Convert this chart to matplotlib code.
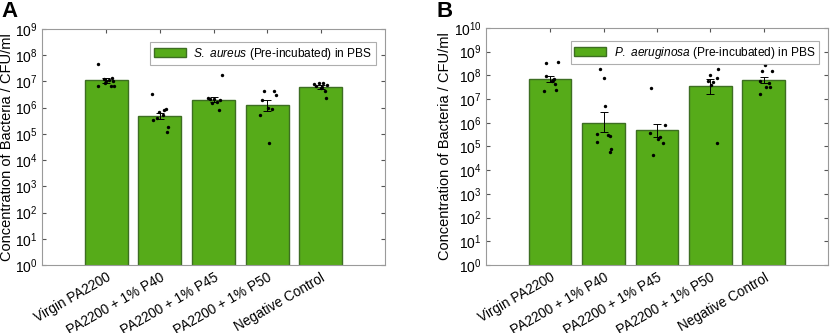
import numpy as np
import matplotlib
matplotlib.use("Agg")
import matplotlib.pyplot as plt
from matplotlib.ticker import LogLocator, LogFormatterSciNotation, NullLocator

plt.rcParams['font.family'] = ['Liberation Sans', 'DejaVu Sans']
plt.rcParams['mathtext.fontset'] = 'custom'
plt.rcParams['mathtext.rm'] = 'Liberation Sans'
plt.rcParams['mathtext.it'] = 'Liberation Sans:italic'

groups = ["Virgin PA2200", "PA2200 + 1% P40", "PA2200 + 1% P45",
          "PA2200 + 1% P50", "Negative Control"]

# panel A: S. aureus
a_mean = [1.1e7, 4.8e5, 2.0e6, 1.22e6, 6.1e6]
a_lo = [9.0e6, 3.8e5, 1.7e6, 7.5e5, 5.2e6]
a_hi = [1.3e7, 6.5e5, 2.6e6, 2.0e6, 7.2e6]
a_pts = [
    [4.5e7, 1.3e7, 1.2e7, 1.0e7, 1.1e7, 9e6, 7e6, 6.5e6, 6.5e6, 1.0e7],
    [3.4e6, 8.9e5, 8.1e5, 6.9e5, 5.2e5, 3.4e5, 3.9e5, 1.9e5, 1.2e5],
    [1.7e7, 2.4e6, 2.1e6, 1.95e6, 1.55e6, 1.7e6, 8.1e5, 2.2e6],
    [4.5e6, 4.5e6, 3.0e6, 1.95e6, 8.7e5, 5.2e5, 4.6e4, 1.0e6],
    [9e6, 8.5e6, 7.5e6, 6.5e6, 5.5e6, 4.5e6, 2.3e6, 8e6, 6e6],
]
a_jit = [
    [-0.15, 0.10, -0.05, 0.12, 0.05, -0.02, 0.15, -0.15, 0.08, 0.0],
    [-0.15, 0.12, 0.08, -0.02, 0.05, -0.12, -0.05, 0.15, 0.13],
    [0.15, -0.10, 0.0, 0.12, -0.02, 0.06, 0.10, -0.06],
    [-0.05, 0.13, 0.16, -0.10, 0.10, -0.13, 0.04, 0.02],
    [-0.03, 0.05, 0.12, -0.08, 0.0, 0.08, 0.10, -0.12, 0.03],
]

# panel B: P. aeruginosa
b_mean = [7.0e7, 1.0e6, 4.8e5, 3.5e7, 6.1e7]
b_lo = [5.1e7, 3.9e5, 2.6e5, 1.7e7, 4.8e7]
b_hi = [9.8e7, 2.8e6, 8.9e5, 7.0e7, 8.3e7]
b_pts = [
    [3.3e8, 3.6e8, 9.7e7, 7.2e7, 5.6e7, 4.4e7, 2.3e7, 2.5e7, 6.5e7],
    [1.9e8, 8e7, 4.9e6, 3.3e5, 2.8e5, 3.0e5, 1.6e5, 7.8e4, 5.6e4],
    [3.0e7, 8e5, 3.7e5, 2.6e5, 2.0e5, 1.4e5, 4.5e4],
    [1.9e8, 1.07e8, 7.4e7, 5.8e7, 5.2e7, 4.1e7, 1.4e5],
    [2.8e8, 1.6e8, 1.6e8, 5.6e7, 4.8e7, 3.2e7, 3.2e7, 1.6e7],
]
b_jit = [
    [-0.07, 0.15, -0.08, 0.08, 0.03, 0.10, -0.12, 0.12, 0.05],
    [-0.07, 0.0, 0.03, -0.12, 0.12, 0.08, -0.12, 0.14, 0.12],
    [-0.12, 0.15, -0.13, 0.05, 0.02, 0.12, -0.08],
    [0.15, 0.0, 0.12, -0.05, 0.05, 0.02, 0.13],
    [0.02, -0.03, 0.15, -0.08, 0.10, 0.05, 0.12, -0.08],
]

bar_color = "#56ab19"
edge_color = "#3d6e22"
spine_color = "#9a9a9a"


def panel(ax, mean, lo, hi, pts, jit, ymax, label):
    x = np.arange(1, len(groups) + 1)
    ax.bar(x, mean, width=0.8, color=bar_color, edgecolor=edge_color,
           linewidth=1.0, label=label, zorder=2)
    yerr = [np.array(mean) - np.array(lo), np.array(hi) - np.array(mean)]
    ax.errorbar(x, mean, yerr=yerr, fmt='none', ecolor='black',
                elinewidth=0.7, capsize=3, capthick=0.7, zorder=3)
    for i, (p, j) in enumerate(zip(pts, jit)):
        ax.scatter(x[i] + np.array(j), p, s=6, color='black', zorder=4,
                   linewidths=0)
    ax.set_yscale('log')
    ax.set_ylim(1, ymax)
    ax.set_xlim(-0.2, 6.2)
    ax.yaxis.set_major_locator(LogLocator(base=10, numticks=20))
    ax.yaxis.set_major_formatter(LogFormatterSciNotation())
    ax.yaxis.set_minor_locator(NullLocator())
    ax.set_xticks(x)
    ax.set_xticklabels(groups, rotation=30, ha='right', rotation_mode='anchor')
    ax.tick_params(axis='both', direction='in', top=True, right=True,
                   length=3, color='#555555', labelsize=10, pad=3)
    ax.tick_params(axis='x', pad=4, labelsize=9.8)
    for s in ax.spines.values():
        s.set_color(spine_color)
        s.set_linewidth(0.8)
    ax.set_ylabel("Concentration of Bacteria / CFU/ml", fontsize=10.5,
                  labelpad=1)
    leg = ax.legend(loc='upper right', fontsize=8.6, frameon=True,
                    fancybox=False, borderpad=0.3, handlelength=2.7,
                    handletextpad=0.6, bbox_to_anchor=(0.99, 0.97))
    leg.get_frame().set_edgecolor(spine_color)
    leg.get_frame().set_linewidth(0.8)


fig = plt.figure(figsize=(8.3, 3.33), dpi=100)
axA = fig.add_axes([0.0506, 0.2042, 0.4133, 0.7087])
axB = fig.add_axes([0.5855, 0.2042, 0.412, 0.7118])

panel(axA, a_mean, a_lo, a_hi, a_pts, a_jit, 1e9,
      r"$\it{S.\ aureus}$ (Pre-incubated) in PBS")
panel(axB, b_mean, b_lo, b_hi, b_pts, b_jit, 1e10,
      r"$\it{P.\ aeruginosa}$ (Pre-incubated) in PBS")

fig.text(0.002, 0.998, "A", fontsize=16, fontweight='bold', va='top')
fig.text(0.526, 0.998, "B", fontsize=16, fontweight='bold', va='top')

fig.savefig("out.png", dpi=100)
